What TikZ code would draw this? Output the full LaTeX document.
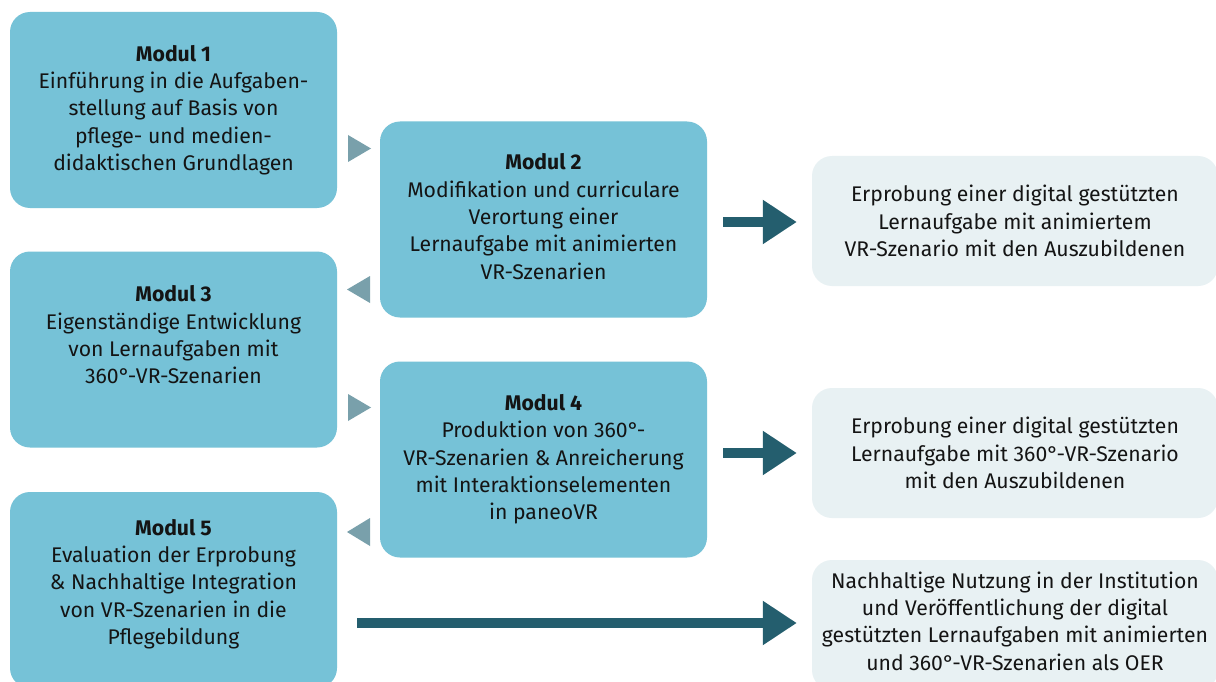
\documentclass[tikz,border=0pt]{standalone}
\usepackage{fontspec}
\setmainfont{Fira Sans}
\usetikzlibrary{arrows.meta}
\definecolor{boxblue}{HTML}{76C2D7}
\definecolor{boxgrey}{HTML}{E8F1F3}
\definecolor{tricol}{HTML}{79A0AB}
\definecolor{arrcol}{HTML}{245E6E}
\definecolor{txtcol}{HTML}{141414}
\tikzset{
  modbox/.style={fill=boxblue, rounded corners=20pt, minimum width=327pt, minimum height=196pt, inner sep=0pt, align=center, text=txtcol, font=\fontsize{21.2}{27.3}\selectfont},
  resbox/.style={fill=boxgrey, rounded corners=20pt, minimum width=406pt, minimum height=130pt, inner sep=0pt, align=center, text=txtcol, font=\fontsize{21.2}{27.3}\selectfont},
  txt/.style={align=center, text=txtcol, inner sep=0pt, font=\fontsize{21.2}{27.3}\selectfont},
  bigarrow/.style={draw=arrcol, line width=9.5pt, -{Triangle[length=34pt, width=42pt]}, arrcol},
  tri/.style={fill=tricol},
}
\begin{document}
\begin{tikzpicture}[x=1pt, y=-1pt]
\useasboundingbox (0,0) rectangle (1216,682);
\fill[white] (0,0) rectangle (1216,682);
% module boxes
\node[modbox] (m1) at (173.5,110) {\textbf{Modul 1}\\Einführung in die Aufgaben-\\stellung auf Basis von\\pflege- und medien-\\didaktischen Grundlagen};
\node[modbox] (m2) at (543.5,219.5) {};
\node[txt] (m2t) at (543.5,216.5) {\textbf{Modul 2}\\Modifikation und curriculare\\Verortung einer\\Lernaufgabe mit animierten\\VR-Szenarien};
\node[modbox] (m3) at (173.5,349.5) {};
\node[txt] (m3t) at (173.5,335) {\textbf{Modul 3}\\Eigenständige Entwicklung\\von Lernaufgaben mit\\360°-VR-Szenarien};
\node[modbox] (m4) at (543.5,459.5) {\textbf{Modul 4}\\Produktion von 360°-\\VR-Szenarien \& Anreicherung\\mit Interaktionselementen\\in paneoVR};
\node[modbox] (m5) at (173.5,590) {};
\node[txt] (m5t) at (173.5,584) {\textbf{Modul 5}\\Evaluation der Erprobung\\\& Nachhaltige Integration\\von VR-Szenarien in die\\Pflegebildung};
% result boxes
\node[resbox] (r1) at (1015,221) {Erprobung einer digital gestützten\\Lernaufgabe mit animiertem\\VR-Szenario mit den Auszubildenen};
\node[resbox] (r2) at (1015,453) {Erprobung einer digital gestützten\\Lernaufgabe mit 360°-VR-Szenario\\mit den Auszubildenen};
\node[resbox] (r3) at (1015,625) {};
\node[txt] (r3t) at (1015,621) {Nachhaltige Nutzung in der Institution\\und Veröffentlichung der digital\\gestützten Lernaufgaben mit animierten\\und 360°-VR-Szenarien als OER};
% small triangles
\fill[tri] (348,135) -- (371,148.5) -- (348,162) -- cycle;
\fill[tri] (370,276) -- (347,289.5) -- (370,303) -- cycle;
\fill[tri] (348,394) -- (371,407.5) -- (348,421) -- cycle;
\fill[tri] (370,518) -- (347,532) -- (370,546) -- cycle;
% big arrows
\draw[bigarrow, shorten <=16pt, shorten >=15pt] (m2.east |- 0,222) -- (r1.west |- 0,222);
\draw[bigarrow, shorten <=16pt, shorten >=15pt] (m4.east |- r2.west) -- (r2.west);
\draw[bigarrow, shorten <=20pt, shorten >=15pt] (m5.east |- 0,623) -- (r3.west |- 0,623);
\end{tikzpicture}
\end{document}
